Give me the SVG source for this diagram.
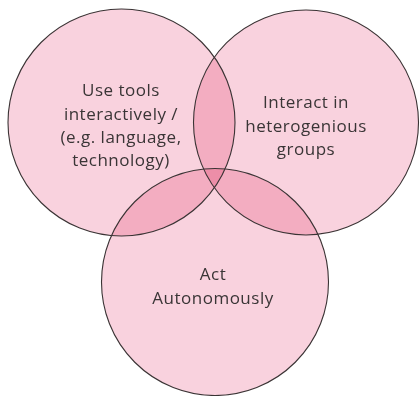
<svg xmlns="http://www.w3.org/2000/svg" width="420" height="396" viewBox="0 0 420 396">
  <style>
    .fill { fill: #F9D2DE; mix-blend-mode: multiply; }
    .ring { fill: none; stroke: #3a3334; stroke-width: 1.1; }
    .label { font-family: "Open Sans", "Liberation Sans", sans-serif; font-size: 17px; letter-spacing: 0.5px; fill: #3a3536; text-anchor: middle; }
  </style>
  <rect width="420" height="396" fill="#ffffff"/>
  <!-- circle fills, multiplied so overlaps darken -->
  <g id="fills" style="isolation:isolate">
    <circle class="fill" cx="121.5" cy="122.5" r="113.5"/>
    <circle class="fill" cx="306" cy="122.5" r="112.5"/>
    <circle class="fill" cx="215" cy="282" r="113.5"/>
  </g>
  <g id="tools">
    <circle class="ring" cx="121.5" cy="122.5" r="113.5"/>
    <text class="label" x="121" y="96">Use tools</text>
    <text class="label" x="121" y="120">interactively /</text>
    <text class="label" x="121" y="143">(e.g. language,</text>
    <text class="label" x="121" y="166">technology)</text>
  </g>
  <g id="groups">
    <circle class="ring" cx="306" cy="122.5" r="112.5"/>
    <text class="label" x="306" y="108">Interact in</text>
    <text class="label" x="306" y="132">heterogenious</text>
    <text class="label" x="306" y="155">groups</text>
  </g>
  <g id="autonomy">
    <circle class="ring" cx="215" cy="282" r="113.5"/>
    <text class="label" x="213" y="280">Act</text>
    <text class="label" x="213" y="304">Autonomously</text>
  </g>
</svg>
